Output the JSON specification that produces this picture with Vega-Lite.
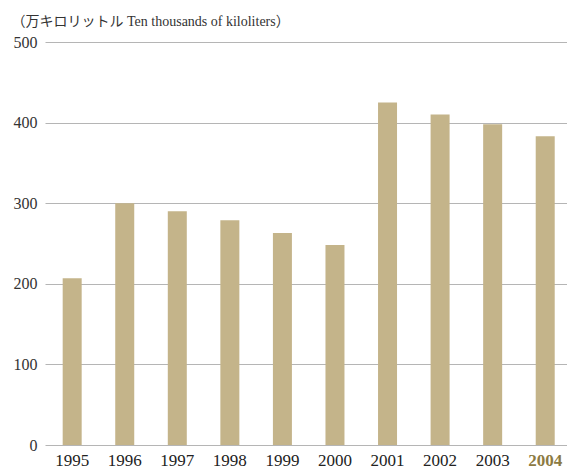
{
  "$schema": "https://vega.github.io/schema/vega-lite/v6.json",
  "autosize": "none",
  "width": 522,
  "height": 403,
  "padding": {"left": 45, "top": 42, "right": 0, "bottom": 24},
  "background": "white",
  "config": {"view": {"stroke": null}},
  "data": {
    "values": [
      {"year": "1995", "value": 207},
      {"year": "1996", "value": 300},
      {"year": "1997", "value": 290},
      {"year": "1998", "value": 279},
      {"year": "1999", "value": 263},
      {"year": "2000", "value": 248},
      {"year": "2001", "value": 425},
      {"year": "2002", "value": 410},
      {"year": "2003", "value": 398},
      {"year": "2004", "value": 383}
    ]
  },
  "mark": {"type": "bar", "color": "#c4b48a"},
  "encoding": {
    "x": {
      "field": "year",
      "type": "nominal",
      "sort": null,
      "scale": {"paddingInner": 0.6385, "paddingOuter": 0.285, "align": 0.59},
      "axis": {
        "title": null,
        "domain": false,
        "ticks": false,
        "labelAngle": 0,
        "labelFont": "Liberation Serif, serif",
        "labelFontSize": 17,
        "labelPadding": 7,
        "labelColor": {"condition": {"test": "datum.value == '2004'", "value": "#8c7a42"}, "value": "#222222"},
        "labelFontWeight": {"condition": {"test": "datum.value == '2004'", "value": "bold"}, "value": "normal"}
      }
    },
    "y": {
      "field": "value",
      "type": "quantitative",
      "scale": {"domain": [0, 500], "nice": false},
      "axis": {
        "values": [0, 100, 200, 300, 400, 500],
        "title": "（万キロリットル Ten thousands of kiloliters）",
        "titleAngle": 0,
        "titleAlign": "left",
        "titleBaseline": "alphabetic",
        "titleX": -34,
        "titleY": -17,
        "titleFont": "Liberation Serif, Noto Sans CJK JP, serif",
        "titleFontSize": 14,
        "titleFontWeight": "normal",
        "titleColor": "#333333",
        "domain": false,
        "ticks": false,
        "grid": true,
        "gridColor": "#b5b5b5",
        "gridWidth": 1,
        "labelFont": "Liberation Serif, serif",
        "labelFontSize": 16,
        "labelColor": "#333333",
        "labelPadding": 8
      }
    }
  }
}
